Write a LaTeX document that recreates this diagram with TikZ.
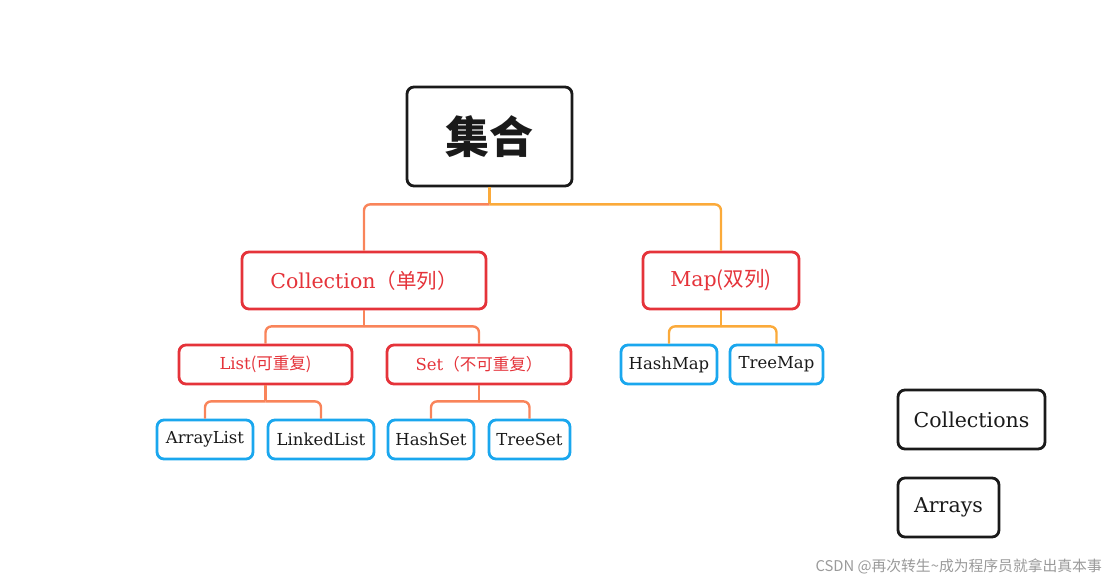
\documentclass[tikz,border=0pt]{standalone}
\usepackage{fontspec}
\setmainfont{DejaVu Serif}
\newfontfamily\cjk{Noto Sans CJK SC}
\definecolor{redc}{HTML}{E5333A}
\definecolor{bluec}{HTML}{1AA7EE}
\definecolor{coral}{HTML}{F9845A}
\definecolor{amber}{HTML}{FBAA3A}
\definecolor{inkc}{HTML}{1A1A1A}
\definecolor{wmc}{HTML}{9A9A9A}
\begin{document}
\begin{tikzpicture}[x=1pt,y=-1pt,
  basebox/.style={draw, rounded corners=7pt, line width=2.8pt, inner sep=0pt, fill=white, align=center},
  blackbox/.style={basebox, draw=inkc, text=inkc},
  redbox/.style={basebox, draw=redc, text=redc},
  bluebox/.style={basebox, draw=bluec, text=inkc, font=\fontsize{16.5}{18}\selectfont},
  link/.style={line width=2.4pt, rounded corners=6pt},
  linkc/.style={link, draw=coral},
  linka/.style={link, draw=amber}]
\useasboundingbox (0,0) rectangle (1117,582);

% nodes
\node[blackbox, minimum width=165pt, minimum height=99pt] (root) at (489.5,136.5)
  {\cjk\bfseries\fontsize{44}{48}\selectfont 集合};
\node[redbox, minimum width=244pt, minimum height=57pt, font=\fontsize{20.5}{24}\selectfont] (coll) at (364,280.5)
  {Collection{\cjk （单列）}};
\node[redbox, minimum width=156pt, minimum height=57pt, font=\fontsize{20.5}{24}\selectfont] (map) at (721,280.5)
  {Map{\cjk (双列)}};
\node[redbox, minimum width=173pt, minimum height=39pt, font=\fontsize{16.5}{20}\selectfont] (list) at (265.5,364.5)
  {List{\cjk (可重复)}};
\node[redbox, minimum width=184pt, minimum height=39pt, font=\fontsize{16.5}{20}\selectfont] (set) at (479,364.5)
  {Set{\cjk （不可重复）}};
\node[bluebox, minimum width=96pt, minimum height=39pt] (alist) at (205,439.5) {ArrayList};
\node[bluebox, minimum width=106pt, minimum height=39pt] (llist) at (321,439.5) {LinkedList};
\node[bluebox, minimum width=86pt, minimum height=39pt] (hset) at (431,439.5) {HashSet};
\node[bluebox, minimum width=81pt, minimum height=39pt] (tset) at (529.5,439.5) {TreeSet};
\node[bluebox, minimum width=96pt, minimum height=39pt] (hmap) at (669,364.5) {HashMap};
\node[bluebox, minimum width=93pt, minimum height=39pt] (tmap) at (776.5,364.5) {TreeMap};
\node[blackbox, minimum width=147pt, minimum height=59pt, font=\fontsize{20.5}{24}\selectfont] (colls) at (971.5,419.5) {Collections};
\node[blackbox, minimum width=101pt, minimum height=59pt, font=\fontsize{20.5}{24}\selectfont] (arrs) at (948.5,507.5) {Arrays};
\node[anchor=east, text=wmc, inner sep=0pt, font=\cjk\fontsize{14.8}{17}\selectfont] (wm) at (1102,566)
  {CSDN @再次转生\string~成为程序员就拿出真本事};

% connectors
\path (root.south) ++(0,17) coordinate (j1);
\draw[linka] (root.south) -- (j1);
\draw[linkc] (j1) -| (coll.north);
\draw[linka] (j1) -| (map.north);

\path (coll.south) ++(0,16) coordinate (j2);
\draw[linkc] (coll.south) -- (j2);
\draw[linkc] (j2) -| (list.north);
\draw[linkc] (j2) -| (set.north);

\path (list.south) ++(0,16) coordinate (j3);
\draw[linkc] (list.south) -- (j3);
\draw[linkc] (j3) -| (alist.north);
\draw[linkc] (j3) -| (llist.north);

\path (set.south) ++(0,16) coordinate (j4);
\draw[linkc] (set.south) -- (j4);
\draw[linkc] (j4) -| (hset.north);
\draw[linkc] (j4) -| (tset.north);

\path (map.south) ++(0,16) coordinate (j5);
\draw[linka] (map.south) -- (j5);
\draw[linka] (j5) -| (hmap.north);
\draw[linka] (j5) -| (tmap.north);
\end{tikzpicture}
\end{document}
